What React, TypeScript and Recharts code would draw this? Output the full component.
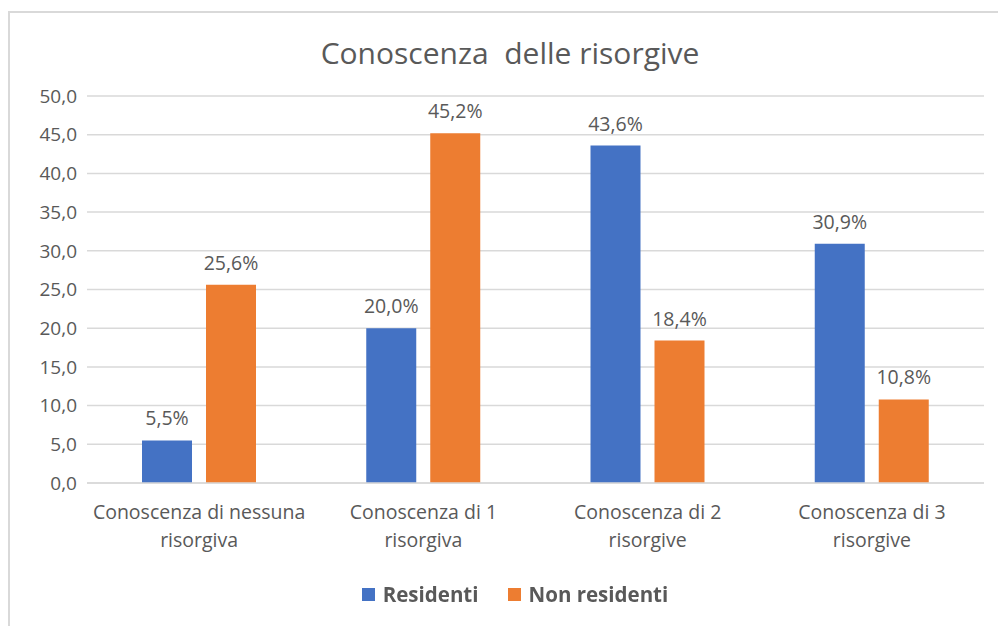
import { Bar, BarChart, CartesianGrid, LabelList, XAxis, YAxis } from 'recharts'

const categories = [
  'Conoscenza di nessuna|risorgiva',
  'Conoscenza di 1|risorgiva',
  'Conoscenza di 2|risorgive',
  'Conoscenza di 3|risorgive',
]
const residenti = [5.5, 20.0, 43.6, 30.9]
const nonResidenti = [25.6, 45.2, 18.4, 10.8]
const yTicks = [0, 5, 10, 15, 20, 25, 30, 35, 40, 45, 50]

const BLUE = '#4472C4'
const ORANGE = '#ED7D31'
const TEXT = '#595959'
const FONT = '"Open Sans", Lato, sans-serif'

const data = categories.map((name, i) => ({
  name,
  residenti: residenti[i],
  nonResidenti: nonResidenti[i],
}))

const fmt = (v: number) => v.toFixed(1).replace('.', ',')

const CategoryTick = ({ x, y, payload }: any) => {
  const lines = String(payload.value).split('|')
  return (
    <text x={x} y={y} textAnchor="middle" fill={TEXT} fontSize={19.5} fontFamily={FONT}>
      {lines.map((l, i) => (
        <tspan key={i} x={x} dy={i === 0 ? 28 : 28}>
          {l}
        </tspan>
      ))}
    </text>
  )
}

const legendItems = [
  { label: 'Residenti', color: BLUE },
  { label: 'Non residenti', color: ORANGE },
]

export default function App() {
  return (
    <div style={{ position: 'fixed', left: 0, top: 0, width: 998, height: 626, background: '#fff' }}>
      <div
        style={{
          position: 'absolute',
          left: 8,
          top: 11,
          width: 1000,
          height: 620,
          borderTop: '2px solid #d9d9d9',
          borderLeft: '2px solid #d9d9d9',
        }}
      />
      <div
        style={{
          position: 'absolute',
          left: 0,
          width: 1020,
          top: 32,
          textAlign: 'center',
          fontFamily: FONT,
          fontSize: 30,
          color: TEXT,
          whiteSpace: 'pre',
        }}
      >
        Conoscenza  delle risorgive
      </div>
      <div style={{ position: 'absolute', left: 0, top: 0 }}>
        <BarChart
          width={998}
          height={626}
          data={data}
          margin={{ top: 96, right: 14, left: 0, bottom: 0 }}
          barSize={50}
          barGap={14}
        >
          <CartesianGrid vertical={false} stroke="#d9d9d9" strokeWidth={1.5} />
          <XAxis
            dataKey="name"
            height={143}
            tickLine={false}
            axisLine={{ stroke: '#d9d9d9', strokeWidth: 1.5 }}
            tick={<CategoryTick />}
            interval={0}
          />
          <YAxis
            width={87}
            domain={[0, 50]}
            ticks={yTicks}
            tickFormatter={fmt}
            axisLine={false}
            tickLine={false}
            tick={{ fill: TEXT, fontSize: 19, fontFamily: FONT }}
            tickMargin={4}
          />
          <Bar dataKey="residenti" name="Residenti" fill={BLUE} isAnimationActive={false}>
            <LabelList
              dataKey="residenti"
              position="top"
              offset={15}
              formatter={(v: any) => `${fmt(Number(v))}%`}
              fill={TEXT}
              fontSize={19.5}
              fontFamily={FONT}
            />
          </Bar>
          <Bar dataKey="nonResidenti" name="Non residenti" fill={ORANGE} isAnimationActive={false}>
            <LabelList
              dataKey="nonResidenti"
              position="top"
              offset={15}
              formatter={(v: any) => `${fmt(Number(v))}%`}
              fill={TEXT}
              fontSize={19.5}
              fontFamily={FONT}
            />
          </Bar>
        </BarChart>
      </div>
      <div
        style={{
          position: 'absolute',
          left: 0,
          width: 1030,
          top: 580,
          display: 'flex',
          justifyContent: 'center',
          gap: 29,
          fontFamily: FONT,
        }}
      >
        {legendItems.map((it) => (
          <div key={it.label} style={{ display: 'flex', alignItems: 'center', gap: 8 }}>
            <span style={{ width: 13, height: 13, background: it.color, display: 'inline-block' }} />
            <span style={{ fontSize: 20.5, fontWeight: 700, color: TEXT }}>{it.label}</span>
          </div>
        ))}
      </div>
    </div>
  )
}
